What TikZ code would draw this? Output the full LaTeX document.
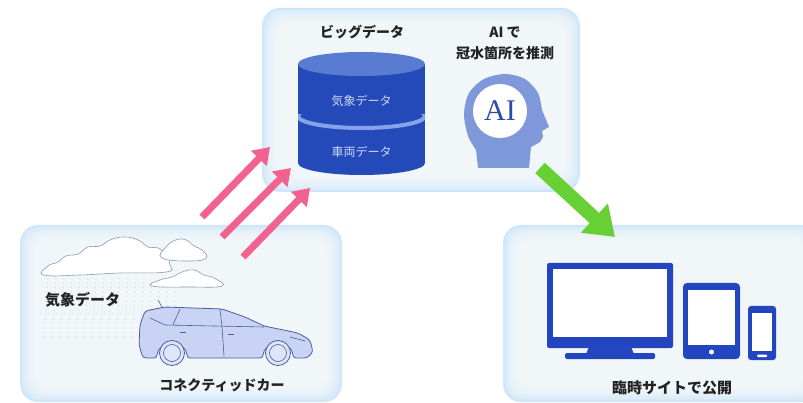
\documentclass[tikz,border=0pt]{standalone}
\usepackage{fontspec}
\setmainfont{Noto Sans CJK JP}
\newfontfamily\aifont{Liberation Serif}
\usetikzlibrary{arrows.meta}
\definecolor{panelblue}{HTML}{CFE6F8}
\definecolor{dbblue}{HTML}{2449B8}
\definecolor{dbtop}{HTML}{5A7BD2}
\definecolor{dbband}{HTML}{86A3EA}
\definecolor{dbtext}{HTML}{CCD8F6}
\definecolor{headblue}{HTML}{7E98DA}
\definecolor{aiblue}{HTML}{2B4BA6}
\definecolor{devblue}{HTML}{2346C0}
\definecolor{arrowpink}{HTML}{F2628E}
\definecolor{arrowgreen}{HTML}{66D035}
\definecolor{carfill}{HTML}{C9D3F3}
\definecolor{carline}{HTML}{4C5C9C}
\definecolor{cloudline}{HTML}{8C98B8}
\definecolor{labelgray}{HTML}{222222}

\begin{document}
\begin{tikzpicture}[x=1pt,y=-1pt] % y runs downwards
\tikzstyle{panel} = [rounded corners=18pt, fill=panelblue, inner sep=0pt, outer sep=0pt] % light blue box
\tikzstyle{lbl} = [font=\bfseries\fontsize{14}{21}\selectfont, text=labelgray, inner sep=0pt, align=center] % black captions
\tikzstyle{dblbl} = [font=\fontsize{12}{12}\selectfont, text=dbtext, inner sep=0pt] % text on the cylinder
\tikzstyle{upload} = [draw=arrowpink, line width=7pt, -{Triangle[width=21pt,length=16pt]}] % pink arrows
\tikzstyle{publish} = [draw=arrowgreen, line width=14pt, -{Triangle[width=38pt,length=28pt]}] % green arrow
\tikzstyle{rain} = [draw=gray!40, line width=0.5pt, dash pattern=on 1.5pt off 3pt]
\tikzstyle{cloud} = [fill=white, draw=cloudline, line width=0.6pt]
\tikzstyle{car} = [fill=carfill, draw=carline, line width=0.8pt]
\tikzstyle{carthin} = [draw=carline, line width=0.6pt]

\useasboundingbox (0,0) rectangle (803,403);

% три панели
\node[panel, minimum width=318pt, minimum height=184pt] (bigdata) at (421,100) {};
\node[panel, minimum width=322pt, minimum height=177pt] (weather) at (181,313.5) {};
\node[panel, minimum width=317pt, minimum height=177pt] (site) at (661.5,313.5) {};
\foreach \p in {bigdata,weather,site}{
  \foreach \k in {1,...,9}
    \fill[white, opacity=0.15, rounded corners=17pt]
      ([shift={(1.6*\k,1.6*\k)}]\p.north west) rectangle ([shift={(-1.6*\k,-1.6*\k)}]\p.south east);
}

% база данных
\fill[dbblue] (298,64) rectangle (425,163);
\fill[dbblue] (361.5,163) ellipse[x radius=63.5, y radius=12];
\fill[dbtop] (361.5,64) ellipse[x radius=63.5, y radius=12];
\begin{scope}
  \clip (298,115) rectangle (425,140);
  \draw[dbband, line width=4pt] (361.5,116) ellipse[x radius=63.5, y radius=12];
\end{scope}
\node[dblbl] (wdata) at (361.5,101) {気象データ};
\node[dblbl] (vdata) at (361.5,152) {車両データ};
\node[lbl] (bigtitle) at (362,32) {ビッグデータ};

% голова с AI
\fill[headblue] (478,168) -- plot[smooth] coordinates {(476,150) (468,136) (464,114) (469,93) (484,79) (505,74) (525,79) (538,93) (542,110)}
  -- (549,127) -- (542,131) -- (543,137) -- (540,142) -- (531,147) -- (529,168) -- cycle;
\fill[white] (500,111) circle[radius=27];
\node[font=\aifont\fontsize{30}{30}\selectfont, text=aiblue, inner sep=0pt] (ai) at (500,111) {AI};
\node[lbl] (guess) at (505,43) {AI で\\冠水箇所を推測};

% облака и дождь
\foreach \x in {48,56,...,176}
  \draw[rain] (\x,278) -- (\x-4,344);
\filldraw[cloud] plot[smooth cycle, tension=0.8] coordinates {(44,275) (48,266) (58,262) (66,256) (78,254) (88,247) (100,246) (110,240) (124,237) (138,240) (148,247) (158,248) (166,255) (170,265) (166,272) (120,273) (80,275)};
\filldraw[cloud] plot[smooth cycle, tension=0.8] coordinates {(162,258) (166,247) (176,240) (186,240) (194,246) (202,250) (206,258) (190,261)};
\filldraw[cloud] plot[smooth cycle, tension=0.8] coordinates {(152,286) (160,280) (172,277) (182,272) (194,270) (204,275) (214,278) (222,286) (190,287)};
\node[lbl, font=\bfseries\fontsize{15}{15}\selectfont, anchor=west] (wlabel) at (45,300) {気象データ};

% машина
\draw[carthin] (162,307) -- (158,300);
\filldraw[car, rounded corners=3pt] (145,311) -- (165,307) -- (222,309) -- (245,317) -- (264,326) -- (298,333) -- (310,340) -- (313,352) -- (307,358)
  -- (293,358) arc[start angle=0, end angle=-180, radius=15] -- (187,358) arc[start angle=0, end angle=-180, radius=15]
  -- (143,358) -- (139,345) -- (140,325) -- cycle;
\draw[carthin] (150,318) -- (165,325) -- (264,327);
\draw[carthin] (180,309) -- (173,325);
\draw[carthin] (220,309) -- (222,327) -- (224,356);
\draw[carthin] (180,332) -- (186,332);
\draw[carthin] (228,334) -- (234,334);
\draw[carthin] (290,337) -- (305,341);
\foreach \c in {172,278}{
  \filldraw[car, fill=carfill!60!white] (\c,353) circle[radius=12.5];
  \draw[carthin] (\c,353) circle[radius=8.5];
}
\node[lbl] (car) at (222,385) {コネクティッドカー};

% устройства
\fill[devblue, rounded corners=2pt] (547,263) rectangle (673,348);
\fill[white] (553,269) rectangle (667,337);
\fill[devblue] (589,347) -- (631,347) -- (634,354) -- (586,354) -- cycle;
\fill[devblue, rounded corners=1.5pt] (565,353) rectangle (655,359);
\fill[devblue, rounded corners=4pt] (683,283) rectangle (740,359);
\fill[white] (688,290) rectangle (735,345);
\fill[white] (711.5,352) circle[radius=2.5];
\fill[devblue, rounded corners=3pt] (748,306) rectangle (776,360);
\fill[white] (752,313) rectangle (772,351);
\fill[white, rounded corners=1pt] (757,354.5) rectangle (767,357);
\node[lbl, font=\bfseries\fontsize{15}{15}\selectfont] (pub) at (672,388) {臨時サイトで公開};

% стрелки
\coordinate (up1s) at (202,217); \coordinate (up1e) at (270,147);
\coordinate (up2s) at (222,237); \coordinate (up2e) at (291,168);
\coordinate (up3s) at (243,257); \coordinate (up3e) at (310,188);
\draw[upload] (up1s) -- (up1e);
\draw[upload] (up2s) -- (up2e);
\draw[upload] (up3s) -- (up3e);
\coordinate (pubs) at (540,168); \coordinate (pube) at (615,237);
\draw[publish] (pubs) -- (pube);
\end{tikzpicture}
\end{document}
